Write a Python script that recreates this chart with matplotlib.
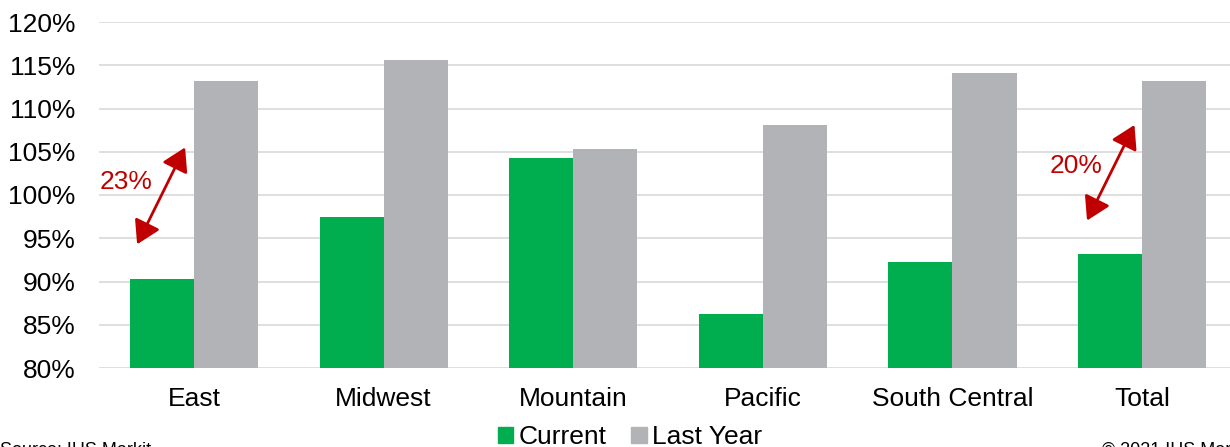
import matplotlib.pyplot as plt
import numpy as np

regions = ["East", "Midwest", "Mountain", "Pacific", "South Central", "Total"]
current = [90.3, 97.4, 104.3, 86.2, 92.3, 93.2]
last_year = [113.2, 115.6, 105.3, 108.1, 114.1, 113.2]
yticks = [80, 85, 90, 95, 100, 105, 110, 115, 120]

green = "#00AE4F"
grey = "#B2B3B6"
red = "#C00000"
fs = 19

plt.rcParams["font.family"] = ["Liberation Sans", "DejaVu Sans"]

fig = plt.figure(figsize=(12.3, 4.47), dpi=100)
ax = fig.add_axes([99.2 / 1230, 1 - 368 / 447, 1 - 99.2 / 1230, (368 - 22) / 447])

x = np.arange(len(regions))
w = 0.338
ax.bar(x - w / 2, current, width=w, color=green, zorder=3)
ax.bar(x + w / 2, last_year, width=w, color=grey, zorder=3)

ax.set_ylim(80, 120)
ax.set_xlim(-0.5, 5.464)
ax.set_yticks(yticks)
ax.set_yticklabels([f"{v}%" for v in yticks], fontsize=fs)
ax.set_xticks(x)
ax.set_xticklabels(regions, fontsize=fs)
ax.tick_params(axis="x", length=0, pad=14)
ax.tick_params(axis="y", length=0, pad=17)
ax.grid(axis="y", color="#D9D9D9", linewidth=1.2, zorder=0)
for s in ax.spines.values():
    s.set_visible(False)

# gap arrows
arrow = dict(arrowstyle="<|-|>,head_length=0.5,head_width=0.3", color=red, lw=2,
             mutation_scale=28, shrinkA=0, shrinkB=0)
ax.annotate("", xy=(-0.047, 105.5), xytext=(-0.30, 94.3), arrowprops=arrow, zorder=4)
ax.text(-0.36, 101.5, "23%", color=red, fontsize=fs, ha="center", va="center")
ax.annotate("", xy=(4.96, 108.1), xytext=(4.71, 97.05), arrowprops=arrow, zorder=4)
ax.text(4.65, 103.3, "20%", color=red, fontsize=fs, ha="center", va="center")

handles = [plt.Rectangle((0, 0), 1, 1, color=green), plt.Rectangle((0, 0), 1, 1, color=grey)]
fig.legend(handles, ["Current", "Last Year"], loc="center", bbox_to_anchor=(630 / 1230, 1 - 437 / 447),
           ncol=2, frameon=False, fontsize=fs, handlelength=0.57, handleheight=0.57,
           handletextpad=0.2, columnspacing=0.95, borderpad=0, borderaxespad=0)

fig.text(0.0, 1 - 442 / 447, "Source: IHS Markit", fontsize=13, ha="left", va="top")
fig.text(1102 / 1230, 1 - 442 / 447, "© 2021 IHS Markit", fontsize=13, ha="left", va="top")

fig.savefig("out.png", dpi=100)
